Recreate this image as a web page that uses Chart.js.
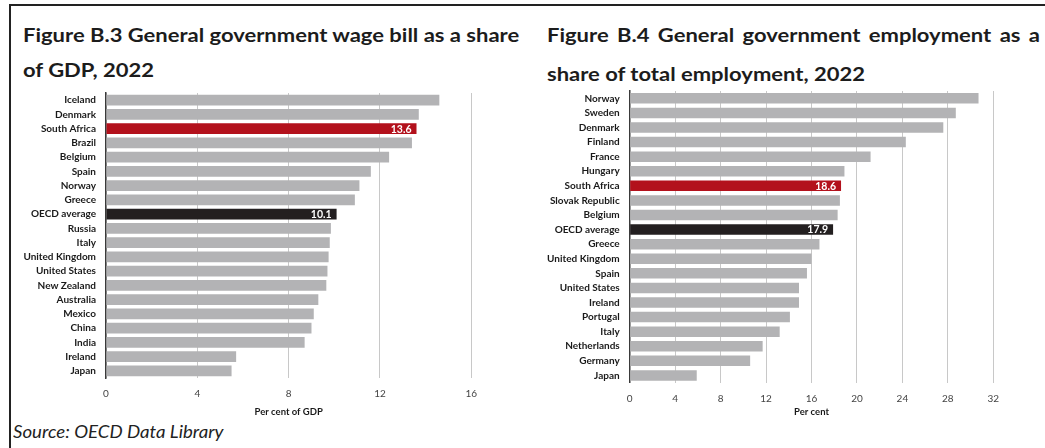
<!DOCTYPE html>
<html>
<head>
<meta charset="utf-8">
<script src="https://cdn.jsdelivr.net/npm/chart.js@4.4.0/dist/chart.umd.min.js"></script>
<style>
    body { margin: 0; width: 1045px; height: 448px; background: #fff; position: relative; overflow: hidden; font-family: Lato, sans-serif; color: #1c1c1c; }
    .rule-top { position: absolute; left: 9px; top: 4px; width: 1036px; height: 2px; background: #222; }
    .rule-left { position: absolute; left: 9px; top: 4px; width: 2px; height: 444px; background: #222; }
    .t { position: absolute; font-weight: 700; font-size: 19.5px; line-height: 1; white-space: nowrap; transform-origin: 0 0; }
    .src { position: absolute; font-style: italic; font-size: 16.5px; line-height: 1; white-space: nowrap; transform-origin: 0 0; color: #222; }
    canvas { position: absolute; }
</style>
</head>
<body>
<div class="rule-top"></div>
<div class="rule-left"></div>

<div class="t" id="t1a" style="left:23px; top:24.5px;"></div>
<div class="t" id="t1b" style="left:23px; top:59.5px;"></div>
<div class="t" id="t2a" style="left:547px; top:24.5px; text-align:justify; text-align-last:justify;"></div>
<div class="t" id="t2b" style="left:547px; top:63.5px;"></div>
<div class="src" id="src" style="left:13px; top:424px;"></div>

<canvas id="wageChart" width="500" height="347" style="left:10px; top:77px;"></canvas>
<canvas id="empChart" width="520" height="349" style="left:525px; top:75px;"></canvas>

<script>
// figure B.3
var wageTitle = ['Figure B.3 General government wage bill as a share', 'of GDP, 2022'];
var wageCountries = ['Iceland', 'Denmark', 'South Africa', 'Brazil', 'Belgium', 'Spain', 'Norway', 'Greece',
    'OECD average', 'Russia', 'Italy', 'United Kingdom', 'United States', 'New Zealand', 'Australia',
    'Mexico', 'China', 'India', 'Ireland', 'Japan'];
var wageValues = [14.6, 13.7, 13.6, 13.4, 12.4, 11.6, 11.1, 10.9, 10.1, 9.85, 9.8, 9.75, 9.7, 9.65, 9.3,
    9.1, 9.0, 8.7, 5.7, 5.5];
var wageTicks = [0, 4, 8, 12, 16];
var wageAxisTitle = 'Per cent of GDP';

// figure B.4
var empTitle = ['Figure B.4 General government employment as a', 'share of total employment, 2022'];
var empCountries = ['Norway', 'Sweden', 'Denmark', 'Finland', 'France', 'Hungary', 'South Africa',
    'Slovak Republic', 'Belgium', 'OECD average', 'Greece', 'United Kingdom', 'Spain', 'United States',
    'Ireland', 'Portugal', 'Italy', 'Netherlands', 'Germany', 'Japan'];
var empValues = [30.7, 28.7, 27.6, 24.3, 21.2, 18.9, 18.6, 18.5, 18.3, 17.9, 16.7, 16.0, 15.6, 14.9,
    14.9, 14.1, 13.2, 11.7, 10.6, 5.9];
var empTicks = [0, 4, 8, 12, 16, 20, 24, 28, 32];
var empAxisTitle = 'Per cent';

var sourceText = 'Source: OECD Data Library';

// colours for the highlighted bars
var highlight = { 'South Africa': '#b3111c', 'OECD average': '#231f20' };
var plainBar = '#b3b3b5';

// titles, squeezed to the widths in the original
(function () {
    var t1a = document.getElementById('t1a');
    var t1b = document.getElementById('t1b');
    var t2a = document.getElementById('t2a');
    var t2b = document.getElementById('t2b');
    var src = document.getElementById('src');
    t1a.textContent = wageTitle[0];
    t1b.textContent = wageTitle[1];
    t2a.textContent = empTitle[0];
    t2b.textContent = empTitle[1];
    src.textContent = sourceText;

    var k = 496 / t1a.offsetWidth;
    [t1a, t1b, t2b].forEach(function (el) { el.style.transform = 'scaleX(' + k + ')'; });
    t2a.style.width = (493 / k) + 'px';
    t2a.style.transform = 'scaleX(' + k + ')';

    var ks = 210 / src.offsetWidth;
    src.style.transform = 'scaleX(' + ks + ')';
}());

// white value text at the end of highlighted bars
var barValueLabels = {
    id: 'barValueLabels',
    afterDatasetsDraw: function (chart) {
        var ctx = chart.ctx;
        var meta = chart.getDatasetMeta(0);
        var vals = chart.data.datasets[0].data;
        ctx.save();
        ctx.font = 'bold 10.5px Lato';
        ctx.fillStyle = '#fff';
        ctx.textAlign = 'right';
        ctx.textBaseline = 'middle';
        meta.data.forEach(function (bar, i) {
            if (highlight[chart.data.labels[i]]) {
                ctx.fillText(vals[i].toFixed(1), bar.x - 5, bar.y + 0.5);
            }
        });
        ctx.restore();
    }
};

function makeChart(id, labels, values, ticks, axisTitle, cfg) {
    var colors = labels.map(function (c) { return highlight[c] || plainBar; });
    return new Chart(document.getElementById(id).getContext('2d'), {
        type: 'bar',
        data: {
            labels: labels,
            datasets: [{
                data: values,
                backgroundColor: colors,
                borderWidth: 0,
                categoryPercentage: 1,
                barPercentage: cfg.barPct
            }]
        },
        plugins: [barValueLabels],
        options: {
            indexAxis: 'y',
            responsive: false,
            animation: false,
            devicePixelRatio: 1,
            layout: { padding: { top: cfg.padTop, right: cfg.padRight, bottom: 0, left: 0 } },
            plugins: { legend: { display: false }, tooltip: { enabled: false } },
            scales: {
                y: {
                    grid: { display: false, drawTicks: false },
                    border: { display: true, color: '#3a3a3a', width: 1.5 },
                    ticks: { color: '#1a1a1a', padding: 10, autoSkip: false, font: { family: 'Lato', size: 10, weight: 'bold' } },
                    afterFit: function (s) { s.width = cfg.yWidth; }
                },
                x: {
                    min: ticks[0],
                    max: ticks[ticks.length - 1],
                    afterBuildTicks: function (s) {
                        s.ticks = ticks.map(function (v) { return { value: v }; });
                    },
                    grid: { color: '#c8c8c8', lineWidth: 1, drawTicks: false },
                    border: { display: false },
                    ticks: { color: '#444', padding: cfg.tickPad, font: { family: 'Lato', size: 10 } },
                    title: {
                        display: true,
                        text: axisTitle,
                        color: '#1a1a1a',
                        padding: { top: cfg.titlePad, bottom: cfg.titlePad },
                        font: { family: 'Lato', size: 9.5, weight: 'bold' }
                    },
                    afterFit: function (s) { s.height = cfg.xHeight; }
                }
            }
        }
    });
}

makeChart('wageChart', wageCountries, wageValues, wageTicks, wageAxisTitle,
    { barPct: 0.75, padTop: 1, padRight: 38.7, yWidth: 96, xHeight: 46, tickPad: 10, titlePad: 6 });
makeChart('empChart', empCountries, empValues, empTicks, empAxisTitle,
    { barPct: 0.72, padTop: 0, padRight: 51.7, yWidth: 104.7, xHeight: 41.3, tickPad: 10, titlePad: 6 });
</script>
</body>
</html>
